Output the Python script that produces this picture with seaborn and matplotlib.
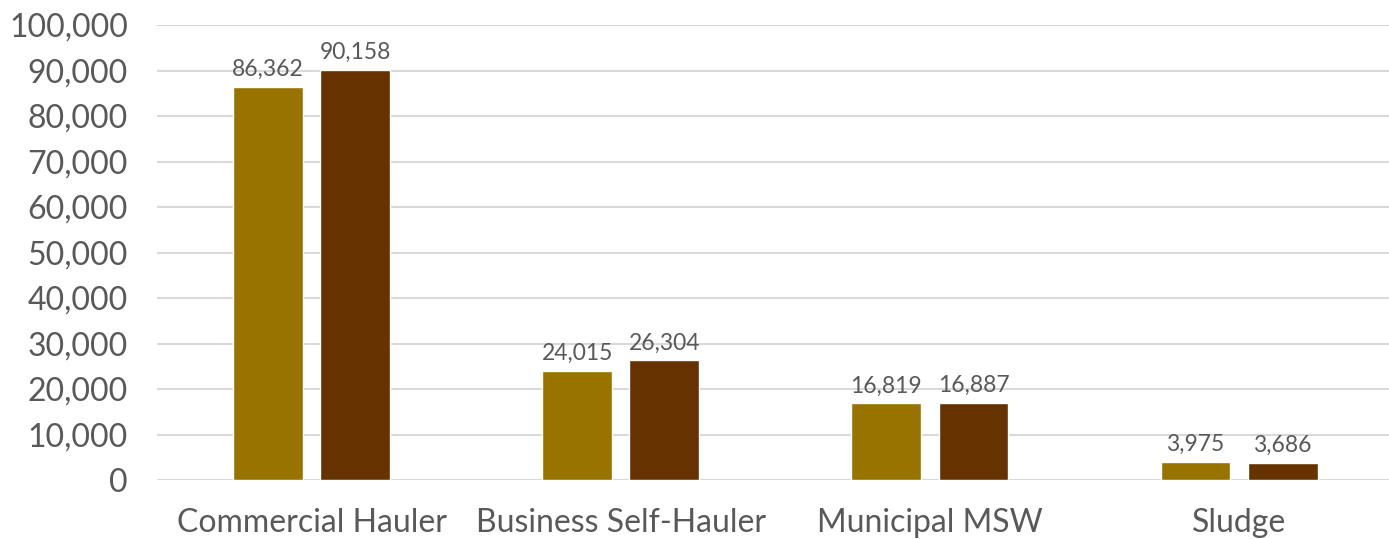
import matplotlib
matplotlib.use("Agg")
import matplotlib.pyplot as plt
import seaborn as sns
import pandas as pd

categories = ["Commercial Hauler", "Business Self-Hauler", "Municipal MSW", "Sludge"]
series_names = ["Year 1", "Year 2"]
values_first = [86362, 24015, 16819, 3975]
values_second = [90158, 26304, 16887, 3686]
y_ticks = list(range(0, 100001, 10000))
colors = ["#997300", "#663300"]

df = pd.DataFrame({
    "category": categories * 2,
    "series": [series_names[0]] * 4 + [series_names[1]] * 4,
    "value": values_first + values_second,
})

sns.set_theme(style="white")
plt.rcParams["font.family"] = ["Lato", "DejaVu Sans"]

fig = plt.figure(figsize=(13.89, 5.39), dpi=100)
ax = fig.add_axes([157 / 1389, 1 - 480 / 539, (1389 - 157) / 1389, 455 / 539])

sns.barplot(data=df, x="category", y="value", hue="series", order=categories,
            hue_order=series_names, palette=colors, width=0.564, gap=0.2,
            saturation=1, legend=False, ax=ax, errorbar=None)

text_color = "#595959"
for container in ax.containers:
    ax.bar_label(container, labels=[f"{v.get_height():,.0f}" for v in container],
                 padding=5, fontsize=16.5, color=text_color)

ax.set_ylim(0, 100000)
ax.set_xlim(-0.5, 3.485)
ax.set_yticks(y_ticks)
ax.set_yticklabels([f"{t:,}" for t in y_ticks], fontsize=23, color=text_color)
ax.set_xticklabels(categories, fontsize=23, color=text_color)
ax.set_xlabel("")
ax.set_ylabel("")
ax.yaxis.grid(True, color="#d9d9d9", linewidth=1.5)
ax.set_axisbelow(True)
ax.tick_params(axis="y", length=0, pad=21)
ax.tick_params(axis="x", length=0, pad=20)
for s in ax.spines.values():
    s.set_visible(False)

fig.savefig("out.png", dpi=100)
